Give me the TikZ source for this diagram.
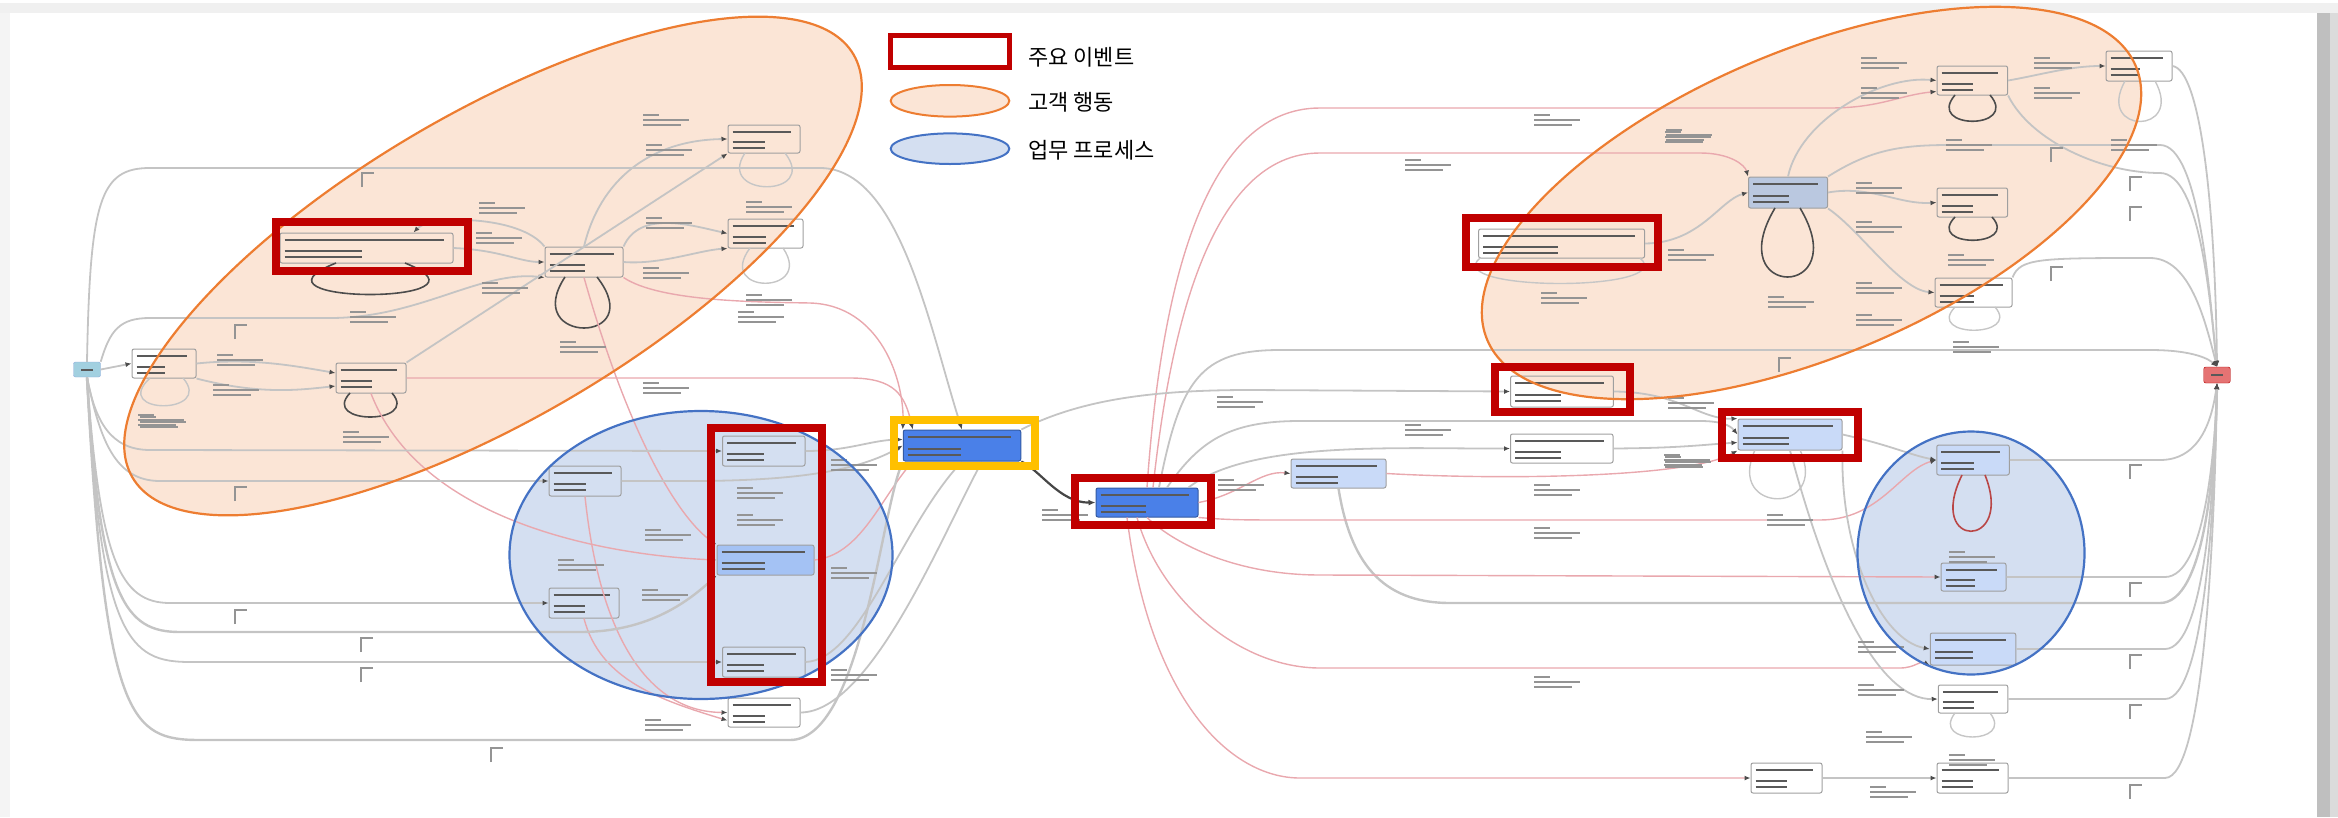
\documentclass[tikz,border=0pt]{standalone}
\usepackage{fontspec}
\newfontfamily\krfont{Noto Sans CJK KR}
\usetikzlibrary{arrows.meta,calc}

\definecolor{peach}{HTML}{FBE5D6}
\definecolor{orangeline}{HTML}{ED7D31}
\definecolor{paleblue}{HTML}{D4DFF1}
\definecolor{blueline}{HTML}{4472C4}
\definecolor{keyred}{HTML}{C00000}
\definecolor{gold}{HTML}{FFC000}
\definecolor{royal}{HTML}{4A80E8}
\definecolor{lightact}{HTML}{C9DAF8}
\definecolor{midact}{HTML}{A4C2F4}
\definecolor{startfill}{HTML}{A2D0E0}
\definecolor{stopfill}{HTML}{E57373}
\definecolor{grayedge}{HTML}{C4C4C4}
\definecolor{pinkedge}{HTML}{E9A8AE}

\tikzset{
  act/.style={draw=gray!75, rounded corners=2pt, line width=1pt, inner sep=0pt},
  txtstroke/.style={draw=black!65, line width=2pt},
  lblstroke/.style={draw=black!42, line width=1.6pt},
  gline/.style={draw=grayedge, line width=1.8pt, -{Latex[length=6pt,width=5pt,color=black!70]}},
  pline/.style={draw=pinkedge, line width=1.4pt, -{Latex[length=6pt,width=5pt,color=black!70]}},
  darkline/.style={draw=gray!55!black, line width=2.2pt, -{Latex[length=7pt,width=6pt]}},
  loopline/.style={draw=gray!60!black, line width=1.6pt},
  lightloop/.style={draw=gray!45, line width=1.4pt},
  keybox/.style={draw=keyred, line width=8pt},
  elbl/.pic={\draw[lblstroke] (0,0) -- (16,0) (0,5) -- (46,5) (0,10) -- (38,10);},
  emark/.pic={\draw[lblstroke] (0,14) -- (0,0) -- (12,0);}
}

% activity box with three lines of (unreadable) text
\newcommand{\actnode}[6]{%
  \node[act, minimum width=#4pt, minimum height=#5pt, #6] (#1) at (#2,#3) {};
  \pgfmathsetmacro{\actwa}{#4-14}\pgfmathsetmacro{\actwb}{0.45*#4}
  \draw[txtstroke] ($(#1.north west)+(5,7)$) -- ++(\actwa,0);
  \draw[txtstroke] ($(#1.west)+(5,3)$) -- ++(\actwb,0);
  \draw[txtstroke] ($(#1.west)+(5,9)$) -- ++(\actwb,0);
}

\begin{document}
\begin{tikzpicture}[x=1pt,y=-1pt]
\useasboundingbox (0,0) rectangle (2338,817);
% screenshot frame
\fill[gray!12] (0,3) rectangle (2338,13);
\fill[gray!9] (0,13) rectangle (10,817);
\fill[gray!50] (2317,13) rectangle (2338,817);
\fill[gray!28] (2330,13) rectangle (2338,817);

% group backgrounds
\fill[peach, rotate around={30.4:(493,266)}] (493,266) ellipse [x radius=418, y radius=153];
\fill[peach, rotate around={22.9:(1811.5,203)}] (1811.5,203) ellipse [x radius=352, y radius=152.5];
\fill[paleblue] (701,555) ellipse [x radius=191.5, y radius=144];
\fill[paleblue] (1971,553) ellipse [x radius=113.5, y radius=121.5];

% left part
\node[draw=blueline!60, fill=startfill, rounded corners=2pt, minimum width=27pt, minimum height=15pt, inner sep=0pt] (start) at (87,369.5) {};
\draw[txtstroke] ($(start.center)+(-6,0)$) -- ++(12,0);
\actnode{l1}{164}{363.5}{64}{29}{}
\actnode{l2}{371}{378}{70}{30}{}
\actnode{l3}{366.5}{248}{173}{30}{}
\actnode{l4}{584}{262}{78}{30}{}
\actnode{l5}{764}{139}{72}{28}{}
\actnode{l6}{765.5}{233.5}{75}{29}{}
\actnode{l7}{585}{481}{72}{30}{}
\actnode{l8}{584}{603}{70}{30}{}
\actnode{l9}{763.75}{451}{82.5}{30}{}
\actnode{l10}{765.5}{560}{97}{30}{fill=midact}
\actnode{l11}{763.75}{662}{82.5}{30}{}
\actnode{l12}{764}{712.5}{72}{29}{}
\actnode{hub}{962}{445.5}{117.5}{31}{fill=royal, draw=royal!70!black}
\actnode{key}{1147}{502.5}{102}{29}{fill=royal, draw=royal!70!black}

% right part
\actnode{r1}{1338.5}{473.5}{95}{29}{fill=lightact}
\actnode{r2}{1561.75}{448.5}{102.5}{29}{}
\actnode{r3}{1562}{391.5}{102.7}{31}{}
\actnode{r4}{1561.6}{243.5}{166}{29}{}
\actnode{r5}{1788}{192.5}{79}{31}{fill=gray!20!lightact}
\actnode{r6}{1972.3}{80.5}{70.6}{29}{}
\actnode{r7}{2139}{66}{66}{30}{}
\actnode{r8}{1972.3}{202.5}{70.6}{29}{}
\actnode{r9}{1973.5}{292.5}{77}{29}{}
\actnode{r10}{1790}{434.5}{104}{31}{fill=lightact}
\actnode{r11}{1973}{460}{72.5}{30}{fill=lightact}
\actnode{r12}{1973.5}{577}{65}{28}{fill=lightact}
\actnode{r13}{1973}{649}{85.5}{32}{fill=lightact}
\actnode{r14}{1973}{699}{69.5}{28}{}
\actnode{r15}{1972.5}{778}{71}{30}{}
\actnode{r16}{1786.5}{778}{71}{30}{}
\node[draw=red!70!black, fill=stopfill, rounded corners=2pt, minimum width=26.5pt, minimum height=16pt, inner sep=0pt] (stop) at (2217,375) {};
\draw[txtstroke] ($(stop.center)+(-6,0)$) -- ++(12,0);

% self loops
\draw[lightloop] (150,378) .. controls (110,415) and (215,415) .. (183,378);
\draw[loopline] (350,393) .. controls (320,425) and (420,425) .. (392,393);
\draw[loopline] (336,263) .. controls (230,305) and (510,305) .. (405,263);
\draw[loopline] (565,277) .. controls (520,345) and (650,345) .. (597,277);
\draw[lightloop] (745,153) .. controls (715,198) and (820,198) .. (785,153);
\draw[lightloop] (750,248) .. controls (715,295) and (815,295) .. (783,248);
\draw[lightloop] (1480,258) .. controls (1440,292) and (1680,292) .. (1640,258);
\draw[loopline] (1775,208) .. controls (1720,300) and (1855,300) .. (1800,208);
\draw[loopline] (1955,95) .. controls (1925,130) and (2020,130) .. (1990,95);
\draw[lightloop] (2125,81) .. controls (2095,135) and (2185,135) .. (2155,81);
\draw[loopline] (1955,217) .. controls (1925,248) and (2020,248) .. (1992,217);
\draw[lightloop] (1955,307) .. controls (1925,338) and (2022,338) .. (1995,307);
\draw[lightloop] (1755,450) .. controls (1725,515) and (1830,515) .. (1800,450);
\draw[draw=red!45!gray, line width=1.6pt] (1962,475) .. controls (1925,550) and (2015,550) .. (1985,475);
\draw[lightloop] (1955,713) .. controls (1930,745) and (2015,745) .. (1990,713);

% left edges
\draw[gline] (start.east) -- (l1.west);
\draw[gline] (start.north) .. controls (90,200) and (100,168) .. (150,168) -- (820,168) .. controls (900,168) and (930,330) .. (hub.north);
\draw[gline] (start.north east) .. controls (110,330) and (120,318) .. (150,318) -- (330,318) .. controls (420,318) and (480,270) .. (l4.south west);
\draw[gline] (l1.east) .. controls (250,358) and (290,365) .. ($(l2.west)+(0,-5)$);
\draw[gline] (l1.south east) .. controls (260,395) and (300,390) .. ($(l2.west)+(0,8)$);
\draw[gline] (l2.north east) -- (l5.south west);
\draw[gline] (l3.east) .. controls (500,250) and (520,262) .. (l4.west);
\draw[gline] (l4.north west) .. controls (520,215) and (430,215) .. ($(l3.north east)+(-40,0)$);
\draw[gline] (l4.north) .. controls (600,180) and (650,140) .. (l5.west);
\draw[gline] (l4.north east) .. controls (640,210) and (690,225) .. (l6.west);
\draw[gline] (l4.east) .. controls (660,265) and (700,250) .. (l6.south west);
\draw[pline] (l4.south east) .. controls (660,302) and (760,302) .. (810,303) .. controls (880,305) and (905,380) .. (hub.north west);
\draw[pline] (l2.east) -- (850,378) .. controls (895,378) and (905,395) .. ($(hub.north west)+(10,0)$);
\draw[pline] (l4.south) .. controls (630,440) and (680,520) .. (l10.north west);
\draw[pline] (l2.south) .. controls (420,520) and (600,555) .. (l10.west);
\draw[pline] (l7.south) .. controls (600,640) and (650,712) .. (l12.west);
\draw[pline] (l8.south) .. controls (600,680) and (660,700) .. ($(l12.west)+(0,8)$);
\draw[pline] (l10.east) .. controls (860,555) and (880,500) .. ($(hub.south west)+(10,0)$);
\draw[gline] (start.south) .. controls (95,420) and (110,450) .. (150,450) -- (l9.west);
\draw[gline] (start.south) .. controls (100,440) and (115,481) .. (160,481) -- (l7.west);
\draw[gline] (start.south) .. controls (100,560) and (120,603) .. (170,603) -- (l8.west);
\draw[gline, line width=2.4pt] (start.south) .. controls (100,600) and (125,632) .. (180,632) -- (580,632) .. controls (650,632) and (690,600) .. (l10.south west);
\draw[gline] (start.south) .. controls (100,640) and (130,662) .. (190,662) -- (l11.west);
\draw[gline, line width=2.4pt] (start.south) .. controls (105,720) and (130,740) .. (200,740) -- (790,740) .. controls (860,740) and (880,520) .. (hub.south west);
\draw[gline] (l7.east) -- (690,481) .. controls (800,481) and (860,470) .. (hub.west);
\draw[gline] (l9.east) .. controls (850,451) and (870,440) .. ($(hub.west)+(0,-6)$);
\draw[gline] (l11.east) .. controls (860,660) and (900,530) .. (hub.south);
\draw[gline] (l12.east) .. controls (870,712) and (940,540) .. ($(hub.south)+(20,0)$);
\draw[darkline] (hub.south east) .. controls (1040,470) and (1060,503) .. (key.west);

% right edges
\draw[pline] (key.north) .. controls (1160,300) and (1200,108) .. (1320,108) -- (1830,108) .. controls (1880,108) and (1900,95) .. ($(r6.south west)+(0,-4)$);
\draw[pline] ($(key.north)+(6,0)$) .. controls (1170,330) and (1210,153) .. (1320,153) -- (1700,153) .. controls (1730,153) and (1745,165) .. (r5.north west);
\draw[gline] ($(key.north)+(12,0)$) .. controls (1180,380) and (1200,350) .. (1280,350) -- (2150,350) .. controls (2195,350) and (2210,360) .. (stop.north);
\draw[gline] (hub.north east) .. controls (1080,400) and (1150,390) .. (1250,390) -- (r3.west);
\draw[gline] ($(key.north)+(20,0)$) .. controls (1200,440) and (1230,421) .. (1300,421) -- (1700,421) .. controls (1720,421) and (1730,425) .. (r10.west);
\draw[pline] (key.east) .. controls (1240,495) and (1260,470) .. (r1.west);
\draw[pline] (r1.east) .. controls (1500,480) and (1690,478) .. (r10.south west);
\draw[gline] ($(key.north east)+(-10,0)$) .. controls (1250,440) and (1400,449) .. (r2.west);
\draw[gline] (r2.east) .. controls (1680,448) and (1700,445) .. ($(r10.west)+(0,8)$);
\draw[gline] (r3.east) .. controls (1680,392) and (1700,420) .. (r10.north west);
\draw[gline] (r4.east) .. controls (1700,243) and (1720,200) .. (r5.west);
\draw[gline] (r5.north) .. controls (1800,120) and (1880,75) .. (r6.west);
\draw[gline] (r5.east) .. controls (1870,185) and (1900,205) .. (r8.west);
\draw[gline] (r5.south east) .. controls (1860,230) and (1900,290) .. (r9.west);
\draw[gline] (r5.north east) .. controls (1870,150) and (1900,145) .. (1950,145) -- (2160,145) .. controls (2200,145) and (2210,300) .. (stop.north);
\draw[gline] (r6.east) .. controls (2040,75) and (2070,66) .. (r7.west);
\draw[gline] (r6.south east) .. controls (2030,140) and (2100,173) .. (2160,173) .. controls (2200,173) and (2210,300) .. (stop.north);
\draw[gline] (r7.east) .. controls (2200,70) and (2215,200) .. (stop.north);
\draw[gline] (r9.north east) .. controls (2020,258) and (2040,258) .. (2150,258) .. controls (2190,258) and (2205,320) .. (stop.north);
\draw[gline] (r11.east) -- (2160,460) .. controls (2200,460) and (2212,420) .. (stop.south);
\draw[gline] (r12.east) -- (2165,577) .. controls (2205,577) and (2215,450) .. (stop.south);
\draw[gline] (r13.east) -- (2165,649) .. controls (2205,649) and (2215,480) .. (stop.south);
\draw[gline] (r14.east) -- (2165,699) .. controls (2205,699) and (2215,500) .. (stop.south);
\draw[gline] (r15.east) -- (2165,778) .. controls (2205,778) and (2215,520) .. (stop.south);
\draw[gline, line width=2.4pt] (r1.south) .. controls (1350,560) and (1380,603) .. (1450,603) -- (2160,603) .. controls (2205,603) and (2215,470) .. (stop.south);
\draw[pline] (key.south east) .. controls (1230,520) and (1240,520) .. (1300,520) -- (1820,520) .. controls (1880,520) and (1900,470) .. (r11.west);
\draw[pline] (key.south) .. controls (1170,540) and (1230,575) .. (1320,575) -- (r12.west);
\draw[pline] ($(key.south)+(-10,0)$) .. controls (1160,600) and (1240,668) .. (1320,668) -- (1900,668) .. controls (1915,668) and (1920,660) .. (r13.south west);
\draw[pline] ($(key.south)+(-20,0)$) .. controls (1150,700) and (1230,778) .. (1300,778) -- (r16.west);
\draw[gline] (r16.east) -- (r15.west);
\draw[gline] (r10.east) .. controls (1890,445) and (1910,455) .. (r11.west);
\draw[gline] (r10.south east) .. controls (1840,550) and (1880,640) .. (r13.west);
\draw[gline] (r10.south) .. controls (1830,600) and (1880,700) .. (r14.west);

% edge labels
\foreach \p in {(217,355),(213,385),(138,415),(343,432),(479,203),(476,233),(482,283),(350,312),
  (643,115),(646,145),(646,218),(643,268),(746,202),(746,295),(738,312),(560,342),(643,383),
  (140,417),(737,488),(737,515),(645,530),(558,560),(642,590),(831,460),(831,568),(831,670),(645,720),(1042,510),
  (1534,115),(1405,160),(1666,130),(1668,250),(1541,293),(1217,397),(1405,425),(1668,398),(1664,455),(1534,485),
  (1861,58),(1861,88),(2034,58),(2034,88),(1665,132),(1856,183),(1856,222),(1946,140),(2111,140),
  (1768,297),(1856,283),(1856,315),(1948,255),(1953,342),
  (1218,480),(1665,457),(1767,515),(1534,528),(1949,552),(1858,642),(1534,677),(1858,685),(1866,732),(1949,755),(1870,787)}
  \pic at \p {elbl};
\foreach \p in {(235,325),(362,173),(235,487),(235,610),(361,638),(361,668),(491,748),
  (2051,148),(2130,177),(2130,207),(2051,267),(1779,358),
  (2130,465),(2130,583),(2130,655),(2130,705),(2130,785)}
  \pic at \p {emark};

% group outlines
\draw[orangeline, line width=2.2pt, rotate around={30.4:(493,266)}] (493,266) ellipse [x radius=418, y radius=153];
\draw[orangeline, line width=2.2pt, rotate around={22.9:(1811.5,203)}] (1811.5,203) ellipse [x radius=352, y radius=152.5];
\draw[blueline, line width=2.2pt] (701,555) ellipse [x radius=191.5, y radius=144];
\draw[blueline, line width=2.2pt] (1971,553) ellipse [x radius=113.5, y radius=121.5];

% key events
\draw[keybox] (275.5,221.7) rectangle (467.9,271);
\draw[keybox] (711,428) rectangle (822,682);
\draw[keybox] (1075,478) rectangle (1211,525);
\draw[keybox] (1466,218) rectangle (1658,267);
\draw[keybox] (1495,367) rectangle (1630,412);
\draw[keybox] (1722,412) rectangle (1858,457.7);
\draw[draw=gold, line width=8pt] (894,420) rectangle (1035,466);

% legend
\draw[keyred, line width=5pt] (890.8,35.2) rectangle (1009.2,67.5);
\draw[orangeline, fill=peach, line width=2pt] (950,100.8) ellipse [x radius=59.3, y radius=15.8];
\draw[blueline, fill=paleblue, line width=2pt] (950,148.7) ellipse [x radius=59.3, y radius=15.3];
\node[anchor=west, inner sep=0pt, font=\krfont\fontsize{22}{26}\selectfont] (lg1) at (1028,57) {주요 이벤트};
\node[anchor=west, inner sep=0pt, font=\krfont\fontsize{22}{26}\selectfont] (lg2) at (1028,102) {고객 행동};
\node[anchor=west, inner sep=0pt, font=\krfont\fontsize{22}{26}\selectfont] (lg3) at (1028,150) {업무 프로세스};
\end{tikzpicture}
\end{document}
